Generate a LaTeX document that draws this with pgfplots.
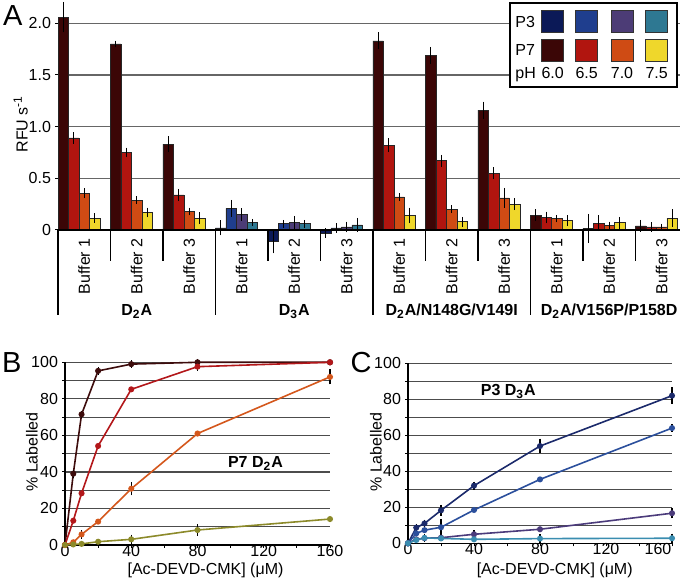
\documentclass[border=0pt]{standalone}
\usepackage{fontspec}
\setmainfont{Liberation Sans}
\usepackage{pgfplots}
\pgfplotsset{compat=1.18}
\definecolor{p7a}{HTML}{3B0606}
\definecolor{p7b}{HTML}{B1150F}
\definecolor{p7c}{HTML}{CF4B14}
\definecolor{p7d}{HTML}{EFD72B}
\definecolor{p3a}{HTML}{0B1957}
\definecolor{p3b}{HTML}{1F3E8E}
\definecolor{p3c}{HTML}{4C3C76}
\definecolor{p3d}{HTML}{2E7892}
\definecolor{la}{HTML}{3D0C0C}
\definecolor{lb}{HTML}{B3171A}
\definecolor{lc}{HTML}{D4571C}
\definecolor{ld}{HTML}{8C8A2A}
\definecolor{na}{HTML}{1B2A6B}
\definecolor{nb}{HTML}{2B4F9C}
\definecolor{nc}{HTML}{4B3B7B}
\definecolor{nd}{HTML}{3A8DB0}
\pgfplotsset{
  barstyle/.style={ybar, bar width=0.2, bar shift=0pt, draw=black!85, line width=0.3pt,
    error bars/y dir=both, error bars/y explicit,
    error bars/error bar style={black, line width=0.5pt},
    error bars/error mark options={black, mark size=1.4pt, line width=0.5pt}},
  lstyle/.style={line width=0.8pt, mark=*, mark size=1.1pt},
  estyle/.style={mark=none, draw=none, forget plot,
    error bars/y dir=both, error bars/y explicit,
    error bars/error bar style={draw=black, line width=0.6pt},
    error bars/error mark options={draw=black, mark size=1pt, line width=0.6pt}},
  curveaxis/.style={scale only axis, anchor=south west,
    xmin=0, xmax=160, ymin=0, ymax=100, clip=false,
    axis x line*=bottom, axis y line*=left, axis line style={-, black, line width=0.6pt},
    xtick={0,40,80,120,160}, minor xtick={20,60,100,140},
    ytick={0,20,40,60,80,100}, minor ytick={10,30,50,70,90},
    ymajorgrids, yminorgrids,
    major grid style={black!70, line width=0.6pt},
    minor grid style={black!70, line width=0.6pt},
    tick align=outside, major tick length=1.5pt, minor tick length=1.5pt,
    tick style={black, line width=0.5pt},
    tick label style={font=\fontsize{8}{9.6}\selectfont},
    xticklabel style={yshift=2.5pt, inner sep=1pt},
    yticklabel style={xshift=1.5pt},
    /pgf/number format/assume math mode=true},
}
\newcommand\buf[2]{\node[rotate=90, anchor=east, inner sep=0pt] at ([yshift=-4pt]axis cs:#1,0) {Buffer #2};}
\begin{document}
\begin{tikzpicture}[font=\fontsize{8}{9.6}\selectfont]
\useasboundingbox (0,0) rectangle (340pt,291pt);
% ---------------- Panel A ----------------
\begin{axis}[at={(29pt,176pt)}, anchor=south west, scale only axis,
  width=311pt, height=113.7pt,
  xmin=0, xmax=11.85, ymin=0, ymax=2.2, clip=false,
  axis lines*=left, axis line style={draw=none},
  xtick=\empty,
  ytick={0,0.5,1,1.5,2}, yticklabels={0,0.5,1.0,1.5,2.0},
  ymajorgrids, major grid style={black!60, line width=0.6pt},
  tick align=outside, major tick length=1.5pt,
  tick style={black, line width=0.5pt},
  tick label style={font=\fontsize{8}{9.6}\selectfont},
  yticklabel style={xshift=1.5pt}]
\addplot[fill=p7a, barstyle] table[x=x, y=y, y error=e] {
x y e
0.1 2.06 0.12
1.1 1.80 0.005
2.1 0.83 0.05
6.1 1.83 0.055
7.1 1.69 0.055
8.1 1.16 0.055
9.1 0.145 0.03
10.1 0.015 0.115
11.1 0.04 0.03
};
\addplot[fill=p7b, barstyle] table[x=x, y=y, y error=e] {
x y e
0.3 0.89 0.03
1.3 0.75 0.02
2.3 0.34 0.03
6.3 0.82 0.04
7.3 0.67 0.03
8.3 0.55 0.03
9.3 0.12 0.03
10.3 0.065 0.05
11.3 0.03 0.02
};
\addplot[fill=p7c, barstyle] table[x=x, y=y, y error=e] {
x y e
0.5 0.355 0.02
1.5 0.29 0.01
2.5 0.18 0.01
6.5 0.32 0.01
7.5 0.20 0.01
8.5 0.31 0.07
9.5 0.11 0.01
10.5 0.045 0.01
11.5 0.03 0.005
};
\addplot[fill=p7d, barstyle] table[x=x, y=y, y error=e] {
x y e
0.7 0.115 0.02
1.7 0.17 0.02
2.7 0.115 0.03
6.7 0.14 0.05
7.7 0.08 0.02
8.7 0.25 0.03
9.7 0.09 0.025
10.7 0.07 0.03
11.7 0.115 0.06
};
\addplot[fill=p3a, barstyle] table[x=x, y=y, y error=e] {
x y e
3.1 0.02 0.045
4.1 -0.11 0.09
5.1 -0.03 0.02
};
\addplot[fill=p3b, barstyle] table[x=x, y=y, y error=e] {
x y e
3.3 0.21 0.055
4.3 0.06 0.01
5.3 0.02 0.02
};
\addplot[fill=p3c, barstyle] table[x=x, y=y, y error=e] {
x y e
3.5 0.15 0.035
4.5 0.07 0.04
5.5 0.03 0.025
};
\addplot[fill=p3d, barstyle] table[x=x, y=y, y error=e] {
x y e
3.7 0.075 0.005
4.7 0.06 0.01
5.7 0.05 0.04
};
\draw[black, line width=0.7pt] (axis cs:0,0) -- (axis cs:11.85,0);
\pgfplotsinvokeforeach{1,2,4,5,7,8,10,11}{
  \draw[black, line width=0.6pt] (axis cs:#1,0) -- ([yshift=-15.5pt]axis cs:#1,0);
}
\pgfplotsinvokeforeach{0,3,6,9}{
  \draw[black, line width=0.6pt] (axis cs:#1,0) -- ([yshift=-42.5pt]axis cs:#1,0);
}
\buf{0.5}{1}\buf{1.5}{2}\buf{2.5}{3}
\buf{3.5}{1}\buf{4.5}{2}\buf{5.5}{3}
\buf{6.5}{1}\buf{7.5}{2}\buf{8.5}{3}
\buf{9.5}{1}\buf{10.5}{2}\buf{11.5}{3}
\node[font=\fontsize{8}{9.6}\selectfont\bfseries, anchor=base, inner sep=0pt] at ([yshift=-43pt]axis cs:1.5,0) {D\textsubscript{2}A};
\node[font=\fontsize{8}{9.6}\selectfont\bfseries, anchor=base, inner sep=0pt] at ([yshift=-43pt]axis cs:4.5,0) {D\textsubscript{3}A};
\node[font=\fontsize{8}{9.6}\selectfont\bfseries, anchor=base, inner sep=0pt] at ([yshift=-43pt]axis cs:7.5,0) {D\textsubscript{2}A/N148G/V149I};
\node[font=\fontsize{8}{9.6}\selectfont\bfseries, anchor=base, inner sep=0pt] at ([yshift=-43pt]axis cs:10.5,0) {D\textsubscript{2}A/V156P/P158D};
\end{axis}
% legend of panel A
\draw[black, line width=0.75pt, fill=white] (255pt,289.5pt) rectangle (338.5pt,247.5pt);
\foreach \x/\ca/\cb in {276.35/p3a/p7a, 293.35/p3b/p7b, 311/p3c/p7c, 328.35/p3d/p7d} {
  \draw[fill=\ca, draw=black!80, line width=0.4pt] (\x pt-5.5pt,280.15pt-5.5pt) rectangle (\x pt+5.5pt,280.15pt+5.5pt);
  \draw[fill=\cb, draw=black!80, line width=0.4pt] (\x pt-5.5pt,266pt-5.5pt) rectangle (\x pt+5.5pt,266pt+5.5pt);
}
\node[anchor=west, inner sep=0pt] at (257.5pt,280.15pt) {P3};
\node[anchor=west, inner sep=0pt] at (257.5pt,266pt) {P7};
\node[anchor=base west, inner sep=0pt] at (257.5pt,251.5pt) {pH};
\node[anchor=base, inner sep=0pt] at (276.35pt,251.5pt) {6.0};
\node[anchor=base, inner sep=0pt] at (293.35pt,251.5pt) {6.5};
\node[anchor=base, inner sep=0pt] at (311pt,251.5pt) {7.0};
\node[anchor=base, inner sep=0pt] at (328.35pt,251.5pt) {7.5};
\node[rotate=90] at (10.35pt,229pt) {RFU s\textsuperscript{-1}};
\node[font=\fontsize{14.5}{17}\selectfont, inner sep=0pt] at (6.4pt,283.25pt) {A};
% ---------------- Panel B ----------------
\begin{axis}[curveaxis, at={(32.5pt,18.5pt)}, width=132.5pt, height=91.35pt]
\addplot[lstyle, color=la] table {
0 0
5 39
10 71.5
20 95.3
40 99
80 100
160 100
};
\addplot[lstyle, color=lb] table {
0 0
5 13.3
10 28.3
20 54.2
40 85.2
80 97.6
160 100
};
\addplot[lstyle, color=lc] table {
0 0
5 1.5
10 5.8
20 12.8
40 30.8
80 61
160 92
};
\addplot[lstyle, color=ld] table {
0 0
5 0.3
10 0.6
20 1.8
40 3.1
80 8.2
160 14.2
};
\addplot[estyle] table[x=x, y=y, y error=e] {
x y e
5 39 1
10 71.5 1
20 95.3 1
40 99 1
80 100 0.8
80 97.6 1
10 5.8 1.2
40 30.8 2.5
160 92 3
40 3.1 1.5
80 8.2 2
};
\node[font=\fontsize{8}{9.6}\selectfont\bfseries] at (axis cs:115,44.7) {P7 D\textsubscript{2}A};
\end{axis}
\node[rotate=90] at (16pt,65pt) {\% Labelled};
\node[anchor=base, inner sep=0pt] at (102.75pt,3.8pt) {[Ac-DEVD-CMK] (μM)};
\node[font=\fontsize{14.5}{17}\selectfont, inner sep=0pt] at (5.85pt,109.5pt) {B};
% ---------------- Panel C ----------------
\begin{axis}[curveaxis, at={(204pt,19.35pt)}, width=132pt, height=90pt,
  xtick={0,40,80,120}, extra x ticks={160},
  extra x tick style={xticklabel style={xshift=-7pt}}]
\addplot[lstyle, color=na] table {
0 0
5 8.7
10 11
20 18.3
40 32
80 54
160 82
};
\addplot[lstyle, color=nb] table {
0 0
5 5.5
10 7.3
20 8.9
40 18.5
80 35.5
160 64
};
\addplot[lstyle, color=nc] table {
0 0
5 2.2
10 2.8
20 3.1
40 5
80 7.8
160 16.7
};
\addplot[lstyle, color=nd] table {
0 0
5 1.8
10 3
20 2.7
40 2.2
80 2.6
160 2.8
};
\addplot[estyle] table[x=x, y=y, y error=e] {
x y e
5 8.7 1
10 11 1
20 18.3 2
40 32 1.2
80 54 3
160 82 3.5
20 8.9 3.5
160 64 1
40 5 1
160 16.7 1.8
10 3 1
80 2.6 1.2
160 2.8 1.5
};
\node[font=\fontsize{8}{9.6}\selectfont\bfseries] at (axis cs:60.8,84.2) {P3 D\textsubscript{3}A};
\end{axis}
\node[rotate=90] at (188pt,65pt) {\% Labelled};
\node[anchor=base, inner sep=0pt] at (277.35pt,3.8pt) {[Ac-DEVD-CMK] (μM)};
\node[font=\fontsize{14.5}{17}\selectfont, inner sep=0pt] at (180.5pt,109.5pt) {C};
\end{tikzpicture}
\end{document}
